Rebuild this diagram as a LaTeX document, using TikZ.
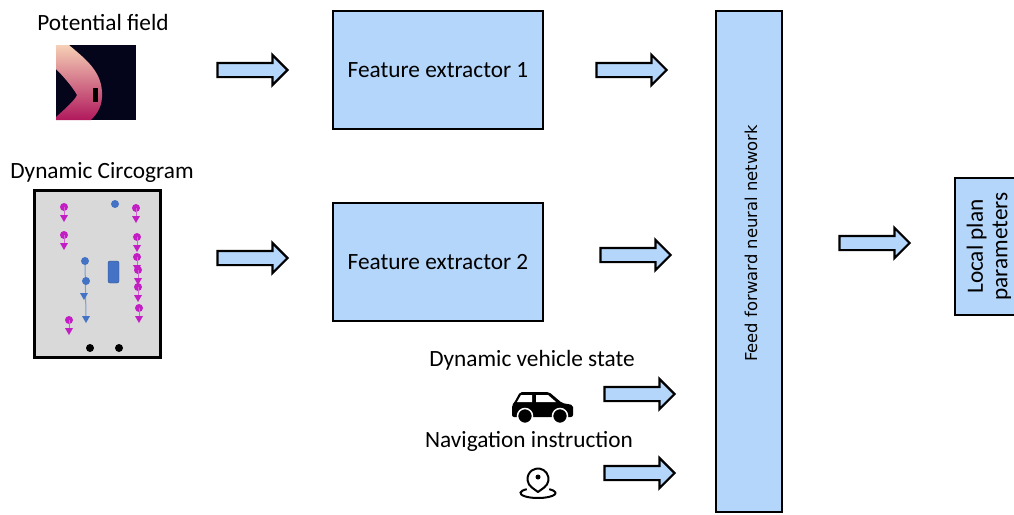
\documentclass[tikz,border=0pt]{standalone}
\usepackage{fontspec}
\setmainfont{Carlito}
\newfontfamily\dejavu{DejaVu Sans}
\usepackage{tikz}
\usetikzlibrary{shapes,arrows,positioning}
\definecolor{boxblue}{RGB}{180,214,250}
\definecolor{circgray}{RGB}{217,217,217}
\definecolor{agentmag}{RGB}{194,30,196}
\definecolor{agentblue}{RGB}{68,114,196}
\definecolor{fieldbg}{RGB}{4,4,26}
\definecolor{fieldpeach}{RGB}{246,208,182}
\definecolor{fieldred}{RGB}{232,78,68}
\definecolor{fieldmag}{RGB}{176,24,92}
% a moving agent: dot with its heading triangle below
\newcommand{\agent}[3]{%
  \fill[#3] (#1,#2) circle (4);
  \draw[#3!70, line width=0.8pt] (#1,#2) -- ++(0,9);
  \fill[#3] (#1-4,#2+8) -- (#1+4,#2+8) -- (#1,#2+15) -- cycle;}
\tikzstyle{block} = [draw=black, fill=boxblue, line width=2.5pt, rectangle, inner sep=0pt, font=\fontsize{23.3}{27}\selectfont]
\tikzstyle{fatarrow} = [single arrow, draw=black, fill=boxblue, line width=2.2pt, minimum height=70pt, inner sep=6pt, single arrow head extend=8pt, single arrow head indent=0pt]
\tikzstyle{caption} = [inner sep=0pt, font=\fontsize{23.3}{27}\selectfont]

\begin{document}
\begin{tikzpicture}[x=1pt, y=-1pt]
\useasboundingbox (0,0) rectangle (1014,514);

% potential field input
\node[caption] (pflabel) at (103,22) {Potential field};
\fill[fieldbg] (56,45) rectangle (136,120);
\shade[top color=fieldpeach, middle color=fieldred, bottom color=fieldmag]
  (56,45) -- (69,45) .. controls (84,58) and (101,70) .. (102,92)
  .. controls (103,106) and (97,114) .. (91,120) -- (56,120) -- (56,117)
  .. controls (66,108) and (75,100) .. (77,95)
  .. controls (72,86) and (62,75) .. (56,69) -- cycle;
\fill[black] (93,88) rectangle (98,102);

% circogram input
\node[caption] (dclabel) at (102,172) {Dynamic Circogram};
\draw[line width=3pt, fill=circgray] (34,190) rectangle (160,357);
\agent{64}{207}{agentmag}
\agent{64}{235}{agentmag}
\agent{69}{320}{agentmag}
\agent{136}{208}{agentmag}
\agent{137}{237}{agentmag}
\agent{137}{257}{agentmag}
\agent{138}{270}{agentmag}
\agent{138}{287}{agentmag}
\agent{139}{308}{agentmag}
\draw[agentblue!70, line width=1pt] (85,261) -- (86,318);
\fill[agentblue] (115,204) circle (4) (85,261) circle (4) (86,281) circle (4);
\fill[agentblue] (80,293) -- (88,293) -- (84,300) -- cycle;
\fill[agentblue] (82,316) -- (90,316) -- (86,323) -- cycle;
\draw[agentblue!70!black, fill=agentblue, rounded corners=2pt] (108,261) rectangle (119,283);
\fill[black] (90,348) circle (4) (119,348) circle (4);

% vehicle state and navigation inputs
\node[caption] (vslabel) at (532,360) {Dynamic vehicle state};
\fill[rounded corners=2pt] (512,417) -- (512,405) -- (514,403) -- (520,392) -- (549,392)
  -- (562,403) -- (573,405) -- (573,417) -- cycle;
\fill[white] (521,395) -- (532,395) -- (532,402) -- (517,402) -- cycle;
\fill[white] (536,395) -- (548,395) -- (556,402) -- (536,402) -- cycle;
\filldraw[fill=black, draw=white, line width=1.5pt] (525,416) circle (7.5) (560,416) circle (7.5);

\node[caption] (nilabel) at (529,441) {Navigation instruction};
\begin{scope}[shift={(538,479)}, y=1pt, line width=2pt]
  \draw (0,-14) ++(130:17.5 and 5) arc[start angle=130, end angle=410, x radius=17.5, y radius=5];
  \draw[line join=round] (0,-13) -- (-54:10.5) arc[start angle=-54, end angle=234, radius=10.5] -- cycle;
  \fill (0,2) circle (2.5);
\end{scope}

% processing blocks
\node[block, minimum width=210pt, minimum height=118pt] (fe1) at (438,70) {Feature extractor 1};
\node[block, minimum width=210pt, minimum height=118pt] (fe2) at (438,262) {Feature extractor 2};
\node[block, minimum width=501pt, minimum height=66pt, rotate=90] (ffnn) at (749,261.5) {};
\node[rotate=90, inner sep=0pt, font=\dejavu\fontsize{16.4}{20}\selectfont] (ffnntext) at (751,243.5) {Feed forward neural network};
\node[block, minimum width=137pt, minimum height=68pt, rotate=90, align=center, font=\fontsize{23.3}{24.5}\selectfont] (lpp) at (989,246.5) {Local plan\\parameters};

% block arrows
\node[fatarrow] (a1) at (249,70) {};
\node[fatarrow] (a2) at (628,70) {};
\node[fatarrow] (a3) at (249,258) {};
\node[fatarrow] (a4) at (632,255) {};
\node[fatarrow] (a5) at (636,394) {};
\node[fatarrow] (a6) at (636,473) {};
\node[fatarrow] (a7) at (871,243) {};
\end{tikzpicture}
\end{document}
